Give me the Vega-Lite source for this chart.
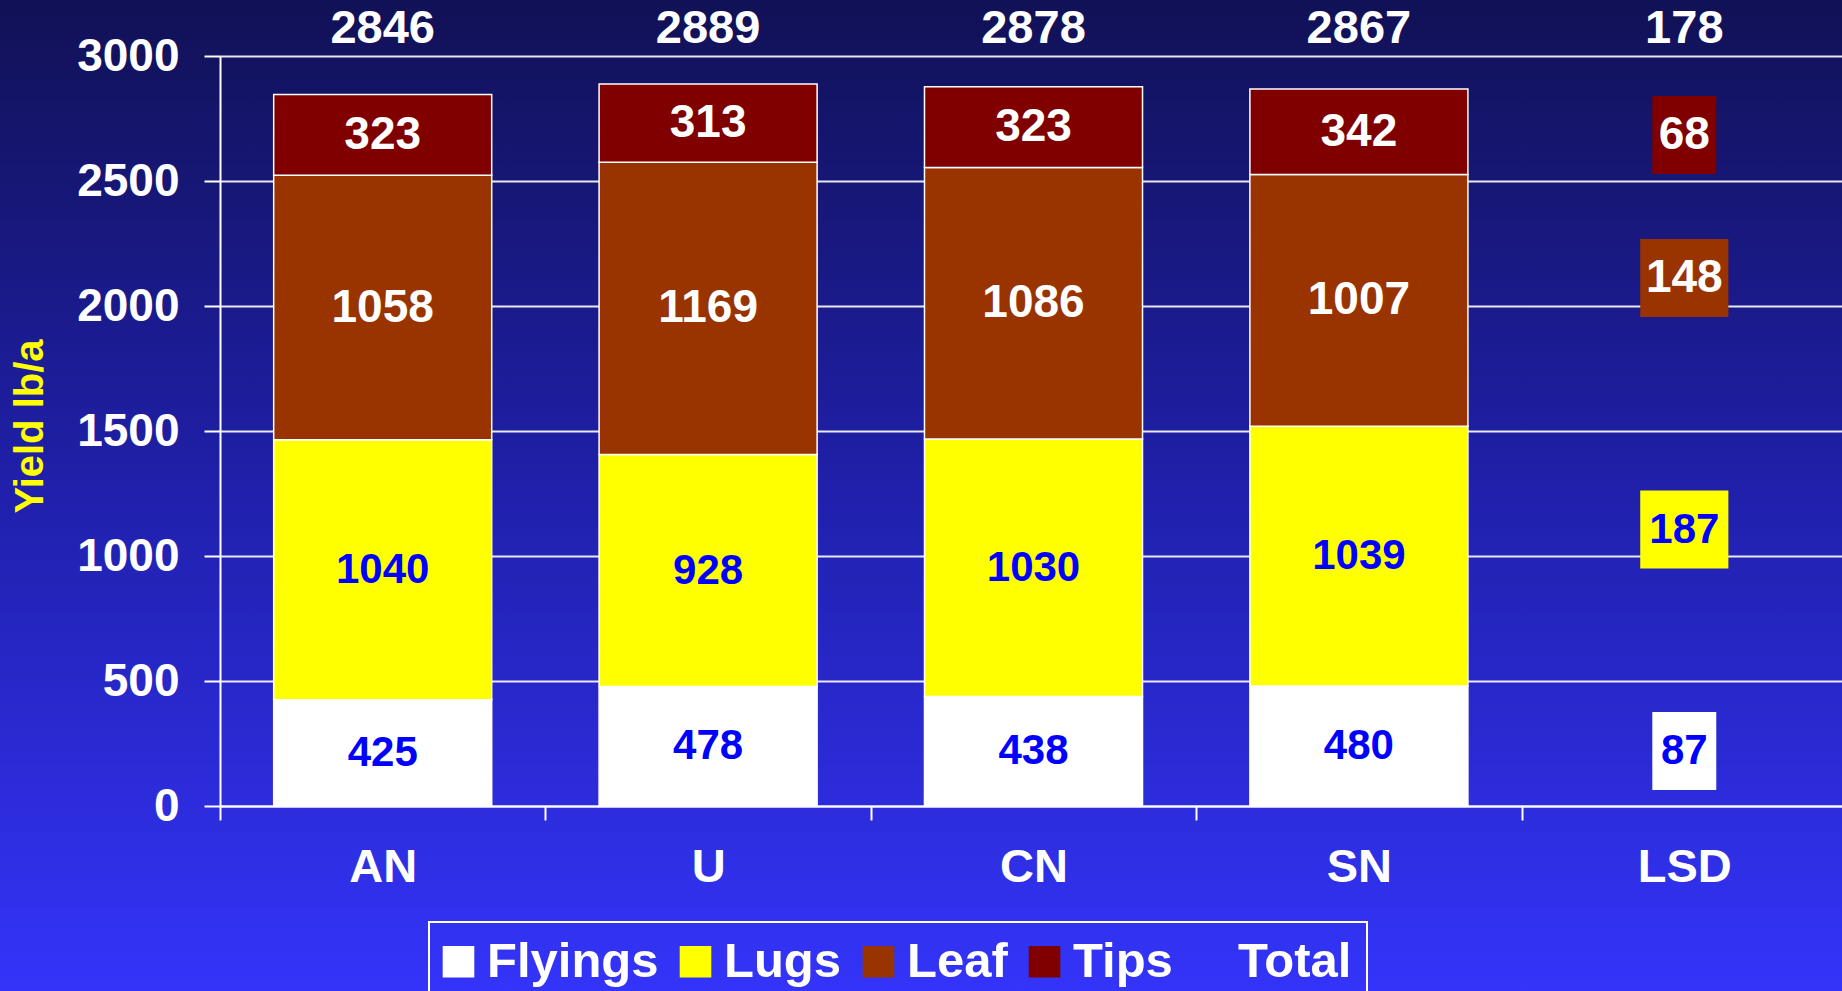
{
  "$schema": "https://vega.github.io/schema/vega-lite/v6.json",
  "width": 1842,
  "height": 991,
  "autosize": "none",
  "padding": 0,
  "background": "#2222aa",
  "view": {
    "stroke": null,
    "fill": {
      "gradient": "linear",
      "x1": 0, "y1": 0, "x2": 0, "y2": 1,
      "stops": [
        {"offset": 0, "color": "#111156"},
        {"offset": 0.5, "color": "#2020ac"},
        {"offset": 1, "color": "#3434fa"}
      ]
    }
  },
  "config": {
    "font": "Liberation Sans",
    "text": {"font": "Liberation Sans", "fontWeight": "bold"},
    "legend": {"strokeWidth": 2}
  },
  "datasets": {
    "parts": [
      {"cat": "AN", "part": "Flyings", "ord": 1, "value": 425},
      {"cat": "AN", "part": "Lugs", "ord": 2, "value": 1040},
      {"cat": "AN", "part": "Leaf", "ord": 3, "value": 1058},
      {"cat": "AN", "part": "Tips", "ord": 4, "value": 323},
      {"cat": "U", "part": "Flyings", "ord": 1, "value": 478},
      {"cat": "U", "part": "Lugs", "ord": 2, "value": 928},
      {"cat": "U", "part": "Leaf", "ord": 3, "value": 1169},
      {"cat": "U", "part": "Tips", "ord": 4, "value": 313},
      {"cat": "CN", "part": "Flyings", "ord": 1, "value": 438},
      {"cat": "CN", "part": "Lugs", "ord": 2, "value": 1030},
      {"cat": "CN", "part": "Leaf", "ord": 3, "value": 1086},
      {"cat": "CN", "part": "Tips", "ord": 4, "value": 323},
      {"cat": "SN", "part": "Flyings", "ord": 1, "value": 480},
      {"cat": "SN", "part": "Lugs", "ord": 2, "value": 1039},
      {"cat": "SN", "part": "Leaf", "ord": 3, "value": 1007},
      {"cat": "SN", "part": "Tips", "ord": 4, "value": 342}
    ],
    "totals": [
      {"cat": "AN", "total": 2846},
      {"cat": "U", "total": 2889},
      {"cat": "CN", "total": 2878},
      {"cat": "SN", "total": 2867},
      {"cat": "LSD", "total": 178}
    ],
    "lsd": [
      {"cat": "LSD", "part": "Flyings", "value": 87, "pos": 220},
      {"cat": "LSD", "part": "Lugs", "value": 187, "pos": 1106},
      {"cat": "LSD", "part": "Leaf", "value": 148, "pos": 2112},
      {"cat": "LSD", "part": "Tips", "value": 68, "pos": 2684}
    ]
  },
  "layer": [
    {
      "data": {"name": "parts"},
      "mark": {"type": "bar", "stroke": "white", "strokeWidth": 1.5},
      "encoding": {
        "x": {
          "field": "cat", "type": "nominal",
          "scale": {"domain": ["AN", "U", "CN", "SN", "LSD"], "range": [220, 1847], "paddingInner": 0.33, "paddingOuter": 0.165},
          "axis": {
            "title": null, "orient": "bottom", "offset": -185, "labelAngle": 0,
            "labelFont": "Liberation Sans", "labelFontSize": 47, "labelFontWeight": "bold", "labelColor": "white",
            "labelPadding": 24, "tickSize": 14, "tickColor": "white", "tickWidth": 2, "tickOffset": -162.7, "labelOffset": 162.7,
            "domainColor": "white", "domainWidth": 2, "grid": false
          }
        },
        "y": {
          "field": "value", "type": "quantitative", "stack": "zero", "title": "Yield lb/a",
          "scale": {"domain": [0, 3000], "range": [806, 56], "nice": false, "zero": false},
          "axis": {
            "orient": "left", "offset": -220, "values": [0, 500, 1000, 1500, 2000, 2500, 3000], "format": "d",
            "labelFont": "Liberation Sans", "labelFontSize": 46, "labelFontWeight": "bold", "labelColor": "white",
            "labelPadding": 25, "tickSize": 16, "tickColor": "white", "tickWidth": 2,
            "domainColor": "white", "domainWidth": 2,
            "grid": true, "gridColor": "white", "gridWidth": 2, "gridOpacity": 0.9,
            "titleFont": "Liberation Sans", "titleFontSize": 40, "titleFontWeight": "bold", "titleColor": "#ffff00",
            "titleAngle": -90, "titleX": -190, "titleY": 426, "titleBaseline": "middle", "titleAlign": "center"
          }
        },
        "color": {
          "field": "part", "type": "nominal",
          "scale": {"domain": ["Flyings", "Lugs", "Leaf", "Tips", "Total"], "range": ["#ffffff", "#ffff00", "#993300", "#800000", "transparent"]},
          "legend": {
            "title": null, "orient": "none", "legendX": 429, "legendY": 922, "direction": "horizontal",
            "strokeColor": "white", "padding": 15,
            "symbolType": "square", "symbolSize": 1000, "symbolStrokeWidth": 0, "symbolOffset": -10,
            "labelFont": "Liberation Sans", "labelFontSize": 49, "labelFontWeight": "bold", "labelColor": "white",
            "labelOffset": 4, "columnPadding": 20, "labelLimit": 400
          }
        },
        "order": {"field": "ord", "type": "quantitative"}
      }
    },
    {
      "data": {"name": "parts"},
      "transform": [
        {"stack": "value", "groupby": ["cat"], "sort": [{"field": "ord", "order": "ascending"}], "as": ["y0", "y1"]},
        {"fold": ["y0", "y1"], "as": ["k", "pos"]},
        {"aggregate": [{"op": "mean", "field": "pos", "as": "mid"}], "groupby": ["cat", "part", "value"]}
      ],
      "mark": {"type": "text", "baseline": "middle", "align": "center", "fontWeight": "bold"},
      "encoding": {
        "x": {"field": "cat", "type": "nominal"},
        "y": {"field": "mid", "type": "quantitative", "title": "Yield lb/a"},
        "text": {"field": "value", "type": "quantitative"},
        "color": {"condition": {"test": "datum.part === 'Flyings' || datum.part === 'Lugs'", "value": "#0000ff"}, "value": "#ffffff"},
        "size": {"condition": {"test": "datum.part === 'Flyings' || datum.part === 'Lugs'", "value": 42}, "value": 46}
      }
    },
    {
      "data": {"name": "totals"},
      "mark": {"type": "text", "baseline": "middle", "align": "center", "fontWeight": "bold", "fontSize": 47, "color": "white"},
      "encoding": {
        "x": {"field": "cat", "type": "nominal"},
        "y": {"datum": 3108, "type": "quantitative", "title": "Yield lb/a"},
        "text": {"field": "total", "type": "quantitative"}
      }
    },
    {
      "data": {"name": "lsd"},
      "mark": {"type": "point", "filled": true, "opacity": 1, "strokeWidth": 0, "size": 6084},
      "encoding": {
        "x": {"field": "cat", "type": "nominal"},
        "y": {"field": "pos", "type": "quantitative", "title": "Yield lb/a"},
        "color": {"field": "part", "type": "nominal"},
        "shape": {"condition": {"test": "datum.value >= 100", "value": "M-1.13,-1H1.13V1H-1.13Z"}, "value": "M-0.82,-1H0.82V1H-0.82Z"}
      }
    },
    {
      "data": {"name": "lsd"},
      "mark": {"type": "text", "baseline": "middle", "align": "center", "fontWeight": "bold"},
      "encoding": {
        "x": {"field": "cat", "type": "nominal"},
        "y": {"field": "pos", "type": "quantitative", "title": "Yield lb/a"},
        "text": {"field": "value", "type": "quantitative"},
        "color": {"condition": {"test": "datum.part === 'Flyings' || datum.part === 'Lugs'", "value": "#0000ff"}, "value": "#ffffff"},
        "size": {"condition": {"test": "datum.part === 'Flyings' || datum.part === 'Lugs'", "value": 42}, "value": 46}
      }
    }
  ]
}
